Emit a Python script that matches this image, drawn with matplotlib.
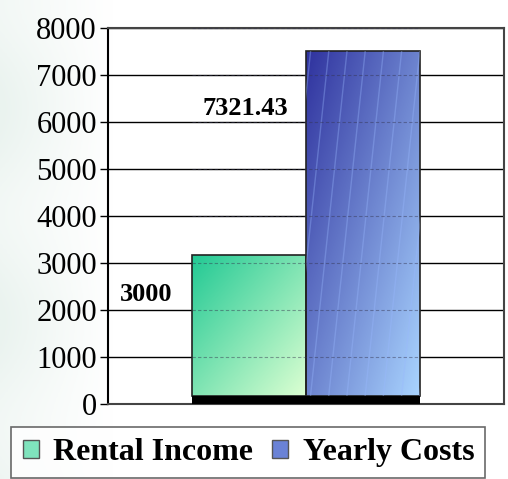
import numpy as np
import matplotlib
matplotlib.use("Agg")
import matplotlib.pyplot as plt
from matplotlib.colors import LinearSegmentedColormap
from matplotlib.patches import Rectangle, Patch

plt.rcParams['font.family'] = ['Liberation Serif', 'DejaVu Serif']

categories = ["Rental Income", "Yearly Costs"]
values = [3000, 7321.43]
labels = ["3000", "7321.43"]
floor = 180  # thickness of the black 3D floor

colors = [("#22c994", "#dcffd2"), ("#2f329e", "#a9d4ff")]
label_offsets = [(-74, -29), (-85, -41)]  # points, relative to bar top centre

fig = plt.figure(figsize=(5.08, 4.79), dpi=100)

# faint mottled background on the left side
bg = fig.add_axes([0, 0, 1, 1], zorder=-10)
xx = np.linspace(0, 1, 300)
yy = np.linspace(0, 1, 100)
fade = np.clip(1 - xx / 0.22, 0, 1)[None, :] * (0.6 + 0.4 * np.sin(yy * 7)[:, None] ** 2)
bg_cmap = LinearSegmentedColormap.from_list("bg", ["#ffffff", "#eaf3ef"])
bg.imshow(fade, cmap=bg_cmap, aspect="auto", extent=[0, 1, 0, 1], vmin=0, vmax=1)
bg.set_axis_off()

ax = fig.add_axes([108 / 508, 1 - 404 / 479, 396 / 508, 376 / 479])
ax.patch.set_alpha(0)

for y in range(1000, 8001, 1000):
    ax.axhline(y, color="black", lw=1, zorder=0)

x = np.arange(len(categories))
bars = ax.bar(x, values, width=1.0, bottom=floor, color="none",
              edgecolor="#222222", lw=1.2, zorder=2)

# diagonal gradient fill for each bar
u = np.linspace(0, 1, 200)
gx, gy = np.meshgrid(u, u)
grad = (gx + gy) / 2
for bar, (c0, c1) in zip(bars, colors):
    cmap = LinearSegmentedColormap.from_list("g", [c0, c1])
    x0, y0 = bar.get_x(), bar.get_y()
    w, h = bar.get_width(), bar.get_height()
    im = ax.imshow(grad, cmap=cmap, aspect="auto", origin="upper",
                   extent=[x0, x0 + w, y0, y0 + h], zorder=1)
    clip = Rectangle((x0, y0), w, h, transform=ax.transData)
    im.set_clip_path(clip)

# steep slanted texture lines on the costs bar
b = bars[1]
clip = Rectangle((b.get_x(), b.get_y()), b.get_width(), b.get_height(),
                 transform=ax.transData)
for s in np.arange(-0.6, 1.2, 0.16):
    xs = b.get_x() + s
    ln, = ax.plot([xs, xs + 0.32], [b.get_y(), b.get_y() + b.get_height()],
                  color=(0.6, 0.72, 1.0, 0.35), lw=1.0, zorder=2)
    ln.set_clip_path(clip)

# grid seen through the bars
for y in range(1000, 8001, 1000):
    ax.hlines(y, -0.5, 1.5, color=(0.2, 0.2, 0.3, 0.45), lw=0.8,
              linestyles=(0, (3, 2)), zorder=3)

# black floor
ax.bar(x, [floor] * len(x), width=1.0, color="black", lw=0, zorder=4)

ax.set_xlim(-1.24, 2.24)
ax.set_ylim(0, 8000)
ax.set_yticks(range(0, 8001, 1000))
ax.set_xticks([])

for i, (v, t) in enumerate(zip(values, labels)):
    ax.annotate(t, xy=(x[i], floor + v), xytext=label_offsets[i],
                textcoords="offset points", ha="center", va="center",
                fontsize=19, fontweight="bold", zorder=5)

for s in ["top", "right", "bottom"]:
    ax.spines[s].set_color("#444444")
    ax.spines[s].set_linewidth(1.5)
ax.spines["left"].set_linewidth(1.5)
ax.tick_params(axis="y", labelsize=22, length=6, width=1, pad=2)

handles = [Patch(facecolor="#7fe3bd", edgecolor="#555555", label=categories[0]),
           Patch(facecolor="#6a82d6", edgecolor="#555555", label=categories[1])]
leg = fig.legend(handles=handles, loc="upper center",
                 bbox_to_anchor=(0.489, 1 - 427 / 479), ncol=2,
                 prop={"size": 23, "weight": "bold"}, frameon=True,
                 fancybox=False, edgecolor="#444444", handlelength=0.5,
                 handleheight=0.5, handletextpad=0.45, columnspacing=0.6,
                 borderpad=0.35, borderaxespad=0)
leg.get_frame().set_linewidth(1.2)

fig.savefig("out.png", dpi=100)
